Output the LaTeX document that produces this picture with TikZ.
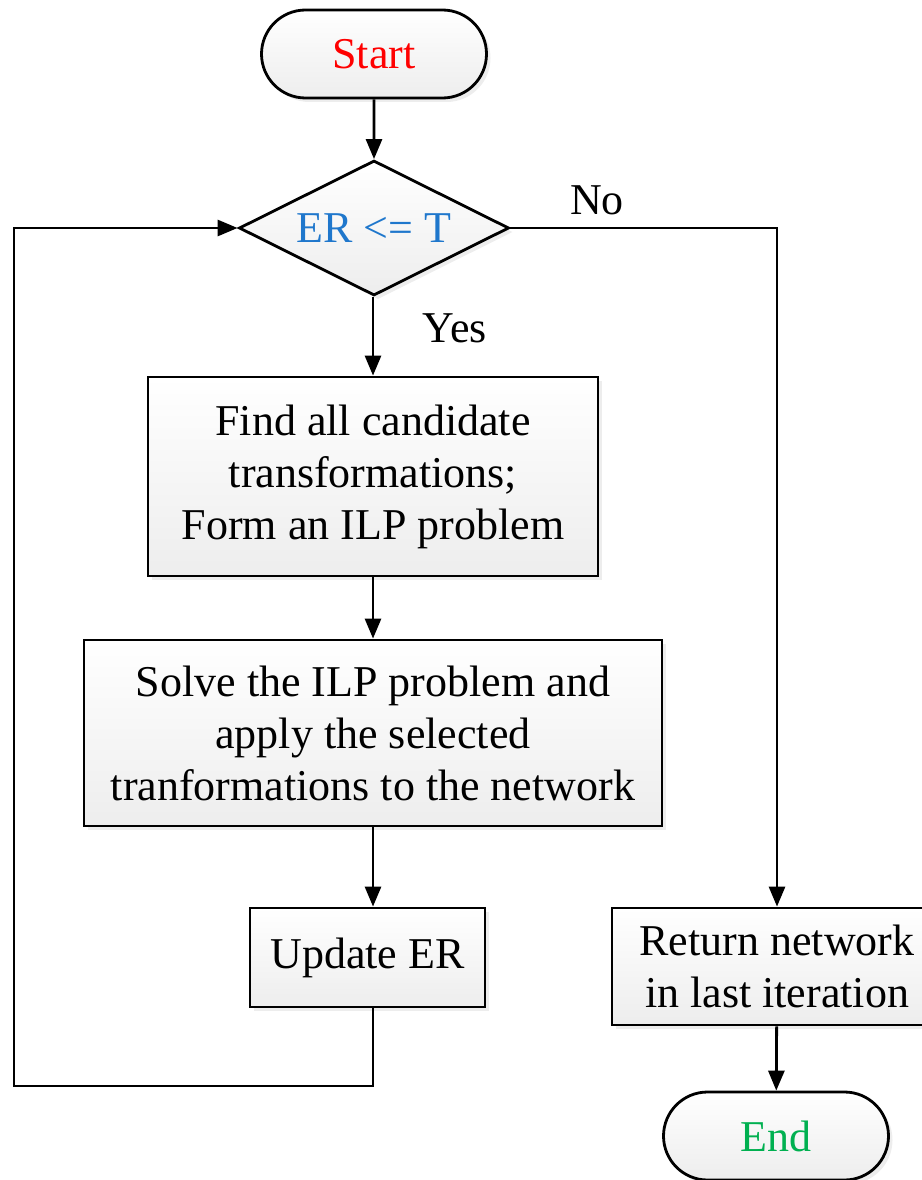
\documentclass[tikz,border=0pt]{standalone}
\usepackage{fontspec}
\setmainfont{Liberation Serif}
\usetikzlibrary{arrows.meta,shapes.geometric,shapes.misc,shadows}
\definecolor{startred}{RGB}{255,0,0}
\definecolor{condblue}{RGB}{31,119,204}
\definecolor{endgreen}{RGB}{0,176,80}
\begin{document}
\begin{tikzpicture}[x=1pt,y=1pt,
  font=\fontsize{44}{52}\selectfont,
  base/.style={draw=black, line width=2.8pt, top color=white, bottom color=black!7,
               drop shadow={shadow xshift=4pt, shadow yshift=-4pt, fill=black!14},
               inner sep=0pt, align=center},
  term/.style={base, rounded rectangle, minimum width=225pt, minimum height=88pt},
  decision/.style={base, diamond, shape aspect=2, minimum width=270pt, minimum height=135pt},
  proc/.style={base, rectangle},
  arr/.style={line width=2.8pt, -{Triangle[length=20pt,width=16pt]}},
  lbl/.style={inner sep=0pt}
]
\useasboundingbox (0,0) rectangle (921,-1180);

\node[term] (start) at (374,-54) {\textcolor{startred}{Start}};
\node[decision] (dec) at (374,-228) {\textcolor{condblue}{ER <= T}};
\node[proc, minimum width=450pt, minimum height=199pt] (find) at (373,-476.5)
  {Find all candidate\\transformations;\\Form an ILP problem};
\node[proc, minimum width=578pt, minimum height=186pt] (solve) at (373,-733)
  {Solve the ILP problem and\\apply the selected\\tranformations to the network};
\node[proc, minimum width=235pt, minimum height=99pt] (upd) at (367.5,-957.5) {Update ER};
\node[proc, minimum width=330pt, minimum height=117pt] (ret) at (777,-966.5)
  {Return network\\in last iteration};
\node[term] (stop) at (776,-1136) {\textcolor{endgreen}{End}};

\coordinate (loop) at (14,-1086);

\draw[arr] (start) -- (dec);
\draw[arr] (dec.south -| find.north) -- (find);
\draw[arr] (find) -- (solve);
\draw[arr] (solve.south) -- (solve.south |- upd.north);
\draw[arr] (upd.south -| solve.south) |- (loop) |- (dec.west);
\draw[arr] (dec.east) -| (ret.north);
\draw[arr] (ret) -- (stop);

\node[lbl] (yes) at (455,-328) {Yes};
\node[lbl] (no) at (597,-200) {No};
\end{tikzpicture}
\end{document}
